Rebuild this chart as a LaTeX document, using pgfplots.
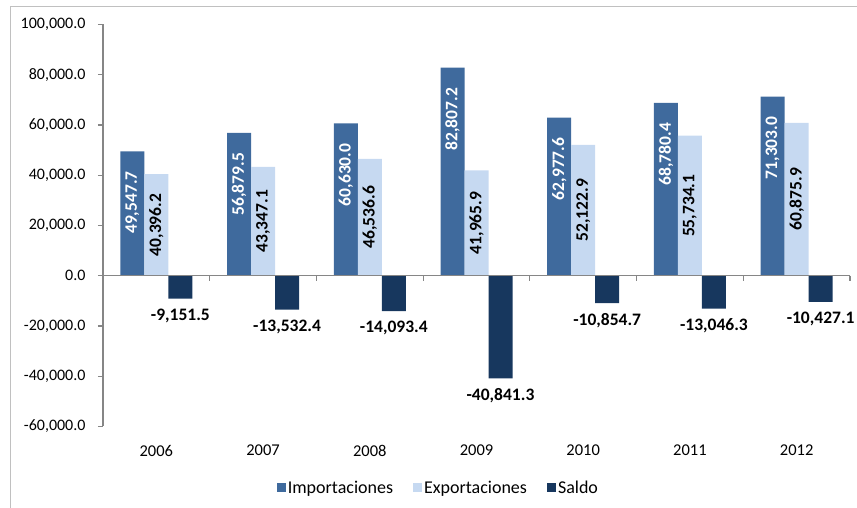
\documentclass[border=0pt]{standalone}
\usepackage{fontspec}
\setmainfont{Carlito}
\usepackage{graphicx}
\usepackage{pgfplots}
\usepackage{pgfplotstable}
\pgfplotsset{compat=1.18}
\definecolor{imp}{HTML}{3F6A9D}
\definecolor{expc}{HTML}{C6D9F1}
\definecolor{sal}{HTML}{17375E}
\definecolor{axgray}{HTML}{868686}
\definecolor{framec}{HTML}{C0C0C0}
\pgfplotstableread{
x imp exp sal limp lexp lsal
0 49547.7 40396.2 -9151.5 49,547.7 40,396.2 -9,151.5
1 56879.5 43347.1 -13532.4 56,879.5 43,347.1 -13,532.4
2 60630.0 46536.6 -14093.4 60,630.0 46,536.6 -14,093.4
3 82807.2 41965.9 -40841.3 82,807.2 41,965.9 -40,841.3
4 62977.6 52122.9 -10854.7 62,977.6 52,122.9 -10,854.7
5 68780.4 55734.1 -13046.3 68,780.4 55,734.1 -13,046.3
6 71303.0 60875.9 -10427.1 71,303.0 60,875.9 -10,427.1
}\data
\pgfplotstableread{
x y
-0.5 -1990
0.5 -1990
1.5 -1990
2.5 -1990
3.5 -1990
4.5 -1990
5.5 -1990
6.5 -1990
}\ticks
\newcommand{\lblfont}{\bfseries\fontsize{17.5}{19}\selectfont}
\pgfplotsset{sqlegend/.style={legend image code/.code={\fill[##1] (-4pt,-4.5pt) rectangle (5pt,4.5pt);}}}
\begin{document}
\begin{tikzpicture}
\useasboundingbox (0,0) rectangle (857pt,508pt);
\draw[framec, line width=1pt] (10pt,0) -- (10pt,501pt) -- (857pt,501pt);
\begin{axis}[
  at={(103pt,81.5pt)}, anchor=south west,
  scale only axis, width=747pt, height=402pt,
  xmin=-0.5, xmax=6.5, ymin=-60000, ymax=100000,
  ytick={-60000,-40000,-20000,0,20000,40000,60000,80000,100000},
  scaled y ticks=false,
  xtick={0,1,2,3,4,5,6},
  xticklabels={2006,2007,2008,2009,2010,2011,2012},
  axis y line*=left, axis x line*=bottom,
  x axis line style={draw=none}, xtick style={draw=none},
  y axis line style={axgray, line width=1.2pt}, ytick style={axgray, line width=1.2pt},
  tick align=outside, major tick length=5pt,
  y tick label style={/pgf/number format/fixed, /pgf/number format/fixed zerofill,
    /pgf/number format/precision=1, /pgf/number format/1000 sep={,},
    /pgf/number format/assume math mode=true},
  yticklabel style={font=\fontsize{16}{18}\selectfont, xshift=-9pt},
  xticklabel style={font=\fontsize{16.5}{18}\selectfont, yshift=-10pt},
  legend columns=3,
  legend style={draw=none, fill=none, at={(axis description cs:0.449,-0.152)}, anchor=center,
    font=\fontsize{18}{20}\selectfont,
    /tikz/every even column/.append style={column sep=18pt}},
  clip=false,
]
\addplot[ybar, sqlegend, bar width=24pt, bar shift=-24pt, fill=imp, draw=none]
  table[x=x, y=imp]{\data};
\addlegendentry{Importaciones}
\addplot[ybar, sqlegend, bar width=24pt, bar shift=0pt, fill=expc, draw=none]
  table[x=x, y=exp]{\data};
\addlegendentry{Exportaciones}
\addplot[ybar, sqlegend, bar width=24pt, bar shift=24pt, fill=sal, draw=none]
  table[x=x, y=sal]{\data};
\addlegendentry{Saldo}
% zero axis line and category boundary ticks
\addplot[forget plot, sharp plot, draw=axgray, line width=1.2pt, mark=none] coordinates {(-0.5,0) (6.5,0)};
\addplot[forget plot, ycomb, draw=axgray, line width=1.2pt, mark=none] table[x=x, y=y]{\ticks};
% data labels
\addplot[forget plot, draw=none, mark=none,
  nodes near coords={\rotatebox{90}{\pgfplotspointmeta}}, point meta=explicit symbolic,
  every node near coord/.append style={anchor=north, inner sep=0pt, yshift=-20pt, text=white, font=\lblfont}]
  table[x expr=\thisrow{x}-0.2249, y=imp, meta=limp]{\data};
\addplot[forget plot, draw=none, mark=none,
  nodes near coords={\rotatebox{90}{\pgfplotspointmeta}}, point meta=explicit symbolic,
  every node near coord/.append style={anchor=center, inner sep=0pt, text=black, font=\lblfont}]
  table[x=x, y expr=\thisrow{exp}/2, meta=lexp]{\data};
\addplot[forget plot, draw=none, mark=none,
  nodes near coords, point meta=explicit symbolic,
  every node near coord/.append style={anchor=north, inner sep=0pt, yshift=-10pt, text=black, font=\lblfont}]
  table[x expr=\thisrow{x}+0.2249, y=sal, meta=lsal]{\data};
\end{axis}
\end{tikzpicture}
\end{document}
